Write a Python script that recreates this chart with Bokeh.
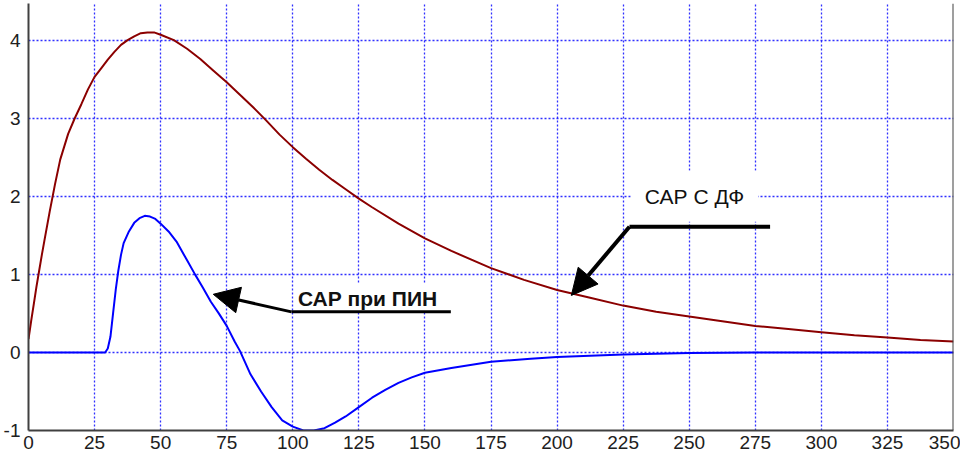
from bokeh.plotting import figure
from bokeh.models import Range1d, FixedTicker, Arrow, NormalHead, Label, Span
from bokeh.embed import file_html
from bokeh.resources import INLINE

# Red curve: "САР С ДФ"
red_x = [0, 1, 2, 3, 4, 5, 6, 8, 10, 12, 15, 17.5, 20, 22.5, 25, 27.5, 30, 32.5, 35, 37.5,
         40, 42.5, 45, 47.5, 50, 55, 60, 65, 70, 75, 80, 85, 90, 95, 100, 105, 110, 115,
         120, 125, 130, 140, 150, 160, 175, 187.5, 200, 212.5, 225, 237.5, 250, 262.5,
         275, 287.5, 300, 312.5, 325, 337.5, 350]
red_y = [0.17, 0.4, 0.62, 0.84, 1.04, 1.24, 1.43, 1.8, 2.15, 2.47, 2.8, 3.0, 3.18, 3.37,
         3.53, 3.64, 3.75, 3.85, 3.94, 4.0, 4.05, 4.09, 4.1, 4.1, 4.07, 4.0, 3.89, 3.76,
         3.61, 3.46, 3.3, 3.14, 2.97, 2.79, 2.63, 2.48, 2.34, 2.21, 2.09, 1.97, 1.86,
         1.65, 1.46, 1.3, 1.08, 0.93, 0.8, 0.7, 0.6, 0.52, 0.46, 0.4, 0.34, 0.3, 0.26,
         0.22, 0.19, 0.16, 0.14]

# Blue curve: "САР при ПИН"
blue_x = [0, 29, 30, 31, 32, 33, 34, 35, 36, 38, 40, 42, 44, 46, 48, 50, 53, 56, 60, 63,
          66, 69, 72, 75, 78, 80, 82, 84, 88, 92, 96, 100, 104, 108, 112, 116, 120, 125,
          130, 135, 140, 145, 150, 160, 175, 190, 200, 225, 250, 275, 350]
blue_y = [0, 0, 0.05, 0.2, 0.5, 0.8, 1.05, 1.25, 1.4, 1.55, 1.66, 1.72, 1.75, 1.74, 1.71,
          1.65, 1.55, 1.42, 1.18, 1.0, 0.83, 0.65, 0.5, 0.34, 0.14, 0.02, -0.13, -0.28,
          -0.5, -0.7, -0.87, -0.95, -1.0, -1.0, -0.97, -0.9, -0.82, -0.7, -0.58, -0.48,
          -0.39, -0.32, -0.26, -0.2, -0.12, -0.08, -0.06, -0.025, -0.008, 0, 0]

x_ticks = [0, 25, 50, 75, 100, 125, 150, 175, 200, 225, 250, 275, 300, 325, 350]
y_ticks = [-1, 0, 1, 2, 3, 4]

label_red = "САР С ДФ"
label_blue = "САР при ПИН"

p = figure(width=960, height=451, output_backend="svg", toolbar_location=None,
           x_range=Range1d(0, 350), y_range=Range1d(-1, 4.47),
           min_border_left=28, min_border_right=7, min_border_top=3, min_border_bottom=19)
p.outline_line_color = None
p.background_fill_color = "white"

for ax in (p.xaxis, p.yaxis):
    ax.major_tick_out = 0
    ax.major_tick_in = 0
    ax.minor_tick_out = 0
    ax.minor_tick_in = 0
    ax.axis_line_color = "#404040"
    ax.axis_line_width = 2
    ax.major_label_text_font = "Liberation Sans"
    ax.major_label_text_font_size = "19px"
    ax.major_label_text_color = "#202020"
p.xaxis.ticker = FixedTicker(ticks=x_ticks)
p.yaxis.ticker = FixedTicker(ticks=y_ticks)
p.yaxis.major_label_overrides = {t: str(t) for t in y_ticks}
p.xaxis.major_label_standoff = 5
p.yaxis.major_label_standoff = 8

for g in (p.xgrid, p.ygrid):
    g.grid_line_color = "#1a1aff"
    g.grid_line_dash = "2 2"
    g.grid_line_width = 1.3
    g.grid_line_alpha = 0.9

p.add_layout(Span(location=350, dimension="height", line_color="#404040", line_width=2))

p.line(red_x, red_y, line_color="#8b0000", line_width=2)
p.line(blue_x, blue_y, line_color="#0000ff", line_width=2)

# Annotation for red curve
p.add_layout(Label(x=252, y=2.0, text=label_red, text_align="center", text_baseline="middle",
                   text_font="Liberation Sans", text_font_size="21px", text_color="#111111",
                   background_fill_color="white", padding=14))
p.add_layout(Arrow(x_start=227.4, y_start=1.61, x_end=280.6, y_end=1.61,
                   line_color="black", line_width=4, end=None))
p.add_layout(Arrow(x_start=227.4, y_start=1.61, x_end=205.4, y_end=0.73,
                   line_color="black", line_width=4,
                   end=NormalHead(size=26, fill_color="black", line_color="black")))

# Annotation for blue curve
p.add_layout(Label(x=128.3, y=0.69, text=label_blue, text_align="center", text_baseline="middle",
                   text_font="Liberation Sans", text_font_size="21px", text_font_style="bold",
                   text_color="#111111", background_fill_color="white", padding=3))
p.add_layout(Arrow(x_start=99.5, y_start=0.52, x_end=159.8, y_end=0.52,
                   line_color="black", line_width=3, end=None))
p.add_layout(Arrow(x_start=99.5, y_start=0.52, x_end=69.9, y_end=0.745,
                   line_color="black", line_width=3,
                   end=NormalHead(size=26, fill_color="black", line_color="black")))

open("out.html", "w").write(file_html(p, INLINE))
